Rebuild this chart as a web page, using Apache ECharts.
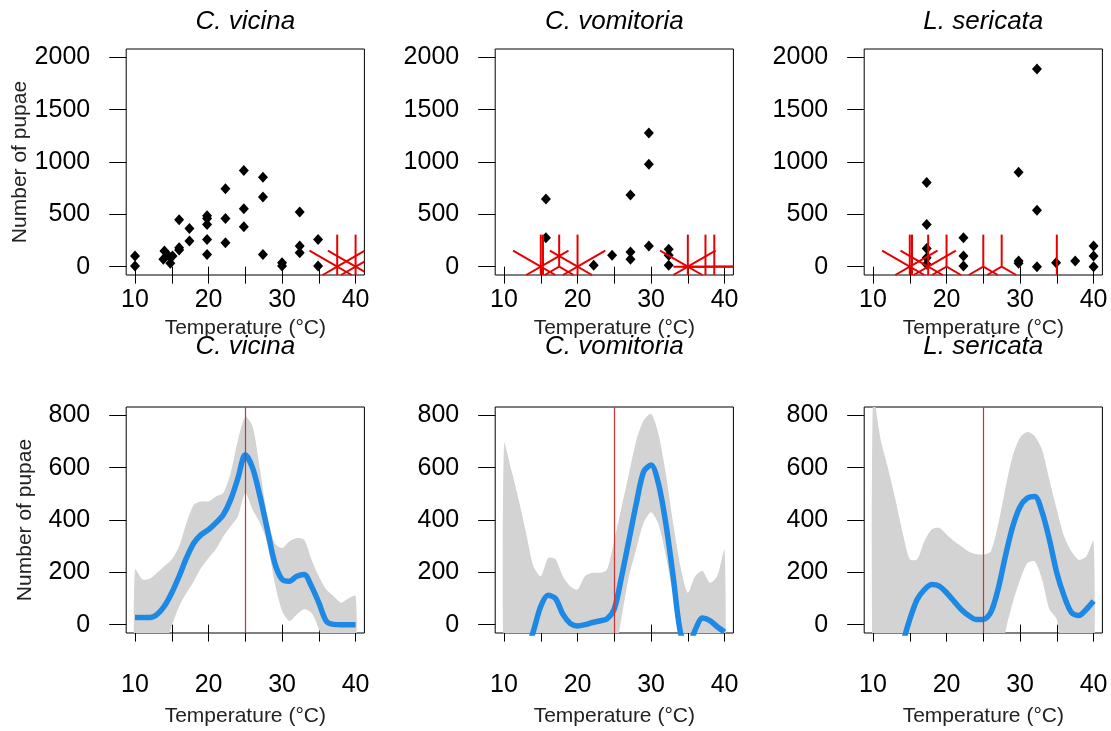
<!DOCTYPE html>
<html><head><meta charset="utf-8">
<script src="https://cdn.jsdelivr.net/npm/echarts@6/dist/echarts.min.js"></script>
<style>html,body{margin:0;padding:0;background:#fff}#c{width:1111px;height:731px}</style>
</head><body><div id="c"></div>
<script>
// ---------- DATA ----------
const speciesNames = ['C. vicina', 'C. vomitoria', 'L. sericata'];
const xTickValues = [10, 15, 20, 25, 30, 35, 40];
const xLabelValues = [10, 20, 30, 40];
const yTicksTop = [0, 500, 1000, 1500, 2000];
const yTicksBottom = [0, 200, 400, 600, 800];
const optimumTemp = 25;

// observed counts [temperature, pupae]
const pointsVicina = [[10,101],[10,6],[14,149],[13.85,70],[14.5,108],[15.1,101],[14.8,32],
  [16,449],[16,180],[16,158],[17.4,364],[17.4,244],
  [19.8,487],[19.8,459],[19.8,402],[19.8,259],[19.8,117],
  [22.3,744],[22.3,459],[22.3,228],[24.8,918],[24.8,554],[24.8,380],
  [27.4,854],[27.4,665],[27.4,117],[30,38],[30,6],[32.4,522],[32.4,196],[32.4,133],
  [34.9,259],[34.9,6]];
const pointsVomitoria = [[15.7,646],[15.7,275],[22.2,13],[24.7,108],[27.2,684],[27.2,139],[27.2,70],
  [29.7,1278],[29.7,978],[29.7,196],[32.4,165],[32.4,108],[32.4,13]];
const pointsSericata = [[17.3,804],[17.3,402],[17.3,174],[17.3,85],[17.3,22],[22.3,275],[22.3,101],[22.3,6],
  [29.8,902],[29.8,54],[29.8,32],[32.3,1889],[32.3,538],[32.3,0],[34.9,38],[37.5,54],
  [40,196],[40,101],[40,0]];

// repeated zero counts shown as sunflowers [temperature, pupae, count]
const sunVicina = [[37.5,0,6],[40,0,6]];
const sunVomitoria = [[15,0,6],[15.3,0,2],[17.5,0,3],[20,0,6],[35,0,6],[37.4,0,4],[38.6,0,4]];
const sunSericata = [[15,0,6],[15.3,0,2],[17.5,0,6],[20,0,3],[25,0,3],[27.5,0,3],[35,0,2]];

// fitted curves and confidence bands
const fitTemps = [10,11,12,13,14,15,16,17,18,19,20,21,22,23,24,25,26,27,28,29,30,31,32,33,34,35,36,37,38,39,40];
const fitVicina   = [27,27,27,39,71,122,185,255,312,344,363,389,420,477,560,649,598,490,363,236,173,166,185,192,147,84,14,1,0,0,0];
const upperVicina = [211,173,175,198,224,249,300,389,458,471,471,490,503,579,706,795,757,592,414,312,293,318,331,325,249,185,135,109,84,100,110];
const lowerVicina = [-157,-119,-121,-120,-82,-5,70,121,166,217,255,288,337,375,414,503,439,388,312,160,53,14,39,59,45,-17,-107,-107,-84,-100,-110];

const fitVomitoria   = [-450,-330,-220,-110,-25,70,112,100,40,5,-5,0,8,14,22,60,185,324,464,585,610,540,388,185,-30,-90,-20,25,15,-8,-28];
const upperVomitoria = [692,591,477,350,223,185,255,250,185,147,134,185,198,198,210,324,451,578,705,781,806,730,578,388,223,122,185,205,160,185,286];
const lowerVomitoria = [-300,-300,-300,-300,-300,-300,-300,-300,-300,-300,-300,-300,-300,-300,-300,-150,30,185,290,390,430,385,265,110,-30,-150,-300,-300,-300,-300,-300];

const fitSericata   = [-500,-400,-290,-180,-75,20,96,134,153,147,122,90,58,35,20,20,46,134,261,375,451,484,490,430,324,198,109,46,35,58,90];
const upperSericata = [880,712,603,484,355,250,250,320,365,370,345,320,300,280,270,268,280,380,520,645,715,736,720,668,553,439,337,280,248,260,320];
const lowerSericata = [-300,-300,-300,-300,-300,-300,-300,-300,-300,-300,-300,-300,-300,-300,-300,-300,-300,-300,-30,84,172,236,242,172,58,20,-200,-200,-200,-200,-200];

// ---------- LAYOUT / STYLE ----------
const FONT = 'Liberation Sans, Arial, sans-serif';
const colLeft = [126.2, 495.2, 864.2];
const boxW = 238.2, boxH = 226;
const rowTop = [49, 407];
const rowY = [[-80, 2080], [-32, 832]];
const rowTicks = [yTicksTop, yTicksBottom];
const labelMargin = [13, 40];
const nameGap = [43, 73];
const titleY = [21.5, 347];

const allPoints = [pointsVicina, pointsVomitoria, pointsSericata];
const allSun = [sunVicina, sunVomitoria, sunSericata];
const allFit = [fitVicina, fitVomitoria, fitSericata];
const allUpper = [upperVicina, upperVomitoria, upperSericata];
const allLower = [lowerVicina, lowerVomitoria, lowerSericata];

function sunflowerItem(params, api) {
  const c = api.coord([api.value(0), api.value(1)]);
  const n = api.value(2);
  const L = 32;
  const cs = params.coordSys;
  const children = [];
  for (let k = 1; k <= n; k++) {
    const a = 2 * Math.PI * k / n;
    const dx = L * Math.sin(a), dy = -L * Math.cos(a);
    let t = 1;
    if (dx > 1e-9) t = Math.min(t, (cs.x + cs.width - c[0]) / dx);
    if (dx < -1e-9) t = Math.min(t, (cs.x - c[0]) / dx);
    if (dy > 1e-9) t = Math.min(t, (cs.y + cs.height - c[1]) / dy);
    if (dy < -1e-9) t = Math.min(t, (cs.y - c[1]) / dy);
    children.push({type: 'line', shape: {x1: c[0], y1: c[1], x2: c[0] + dx * t, y2: c[1] + dy * t},
      style: {stroke: '#e60000', lineWidth: 2}});
  }
  return {type: 'group', children};
}

function bandRenderer(lo, up) {
  return function (params, api) {
    if (params.dataIndex !== 0) return null;
    const pts = [];
    for (let i = 0; i < fitTemps.length; i++) pts.push(api.coord([fitTemps[i], up[i]]));
    for (let i = fitTemps.length - 1; i >= 0; i--) pts.push(api.coord([fitTemps[i], lo[i]]));
    return {type: 'polygon', shape: {points: pts, smooth: 0.25}, style: {fill: '#d3d3d3'}};
  };
}

const grids = [], xAxes = [], yAxes = [], series = [], graphics = [];
for (let r = 0; r < 2; r++) {
  for (let c = 0; c < 3; c++) {
    const idx = r * 3 + c;
    grids.push({left: colLeft[c], top: rowTop[r], width: boxW, height: boxH,
      show: true, borderColor: '#000', borderWidth: 1, backgroundColor: 'transparent'});
    xAxes.push({gridIndex: idx, type: 'value', min: 8.8, max: 41.2,
      axisLine: {show: false}, splitLine: {show: false},
      axisTick: {show: true, length: 17, lineStyle: {color: '#000', width: 1}, customValues: xTickValues},
      axisLabel: {customValues: xLabelValues, fontSize: 25, color: '#000', fontFamily: FONT, margin: labelMargin[r],
        formatter: v => String(v)},
      name: 'Temperature (°C)', nameLocation: 'middle', nameGap: nameGap[r],
      nameTextStyle: {fontSize: 21, color: '#222', fontFamily: FONT}});
    yAxes.push({gridIndex: idx, type: 'value', min: rowY[r][0], max: rowY[r][1],
      axisLine: {show: false}, splitLine: {show: false},
      axisTick: {show: true, length: 17, lineStyle: {color: '#000', width: 1}, customValues: rowTicks[r]},
      axisLabel: {customValues: rowTicks[r], fontSize: 25, color: '#000', fontFamily: FONT, margin: 36,
        padding: [6, 0, 0, 0], formatter: v => String(v)},
      name: c === 0 ? 'Number of pupae' : '', nameLocation: 'middle', nameGap: 90, nameRotate: 90,
      nameTextStyle: {fontSize: 21, color: '#222', fontFamily: FONT}});
    graphics.push({type: 'text', x: colLeft[c] + boxW / 2, y: titleY[r],
      style: {text: speciesNames[c], font: 'italic 26px ' + FONT, fill: '#000',
        textAlign: 'center', textVerticalAlign: 'middle', align: 'center', verticalAlign: 'middle'}});
    if (r === 0) {
      series.push({type: 'scatter', xAxisIndex: idx, yAxisIndex: idx, data: allPoints[c],
        symbol: 'diamond', symbolSize: [10, 11], itemStyle: {color: '#000', opacity: 1}, z: 2, silent: true});
      series.push({type: 'custom', xAxisIndex: idx, yAxisIndex: idx, data: allSun[c],
        renderItem: sunflowerItem, z: 3, silent: true});
    } else {
      const lo = allLower[c], up = allUpper[c], fit = allFit[c];
      series.push({type: 'custom', xAxisIndex: idx, yAxisIndex: idx, clip: true,
        data: fitTemps.map((t, i) => [t, lo[i], up[i]]), encode: {x: 0, y: [1, 2]},
        renderItem: bandRenderer(lo, up), silent: true, z: 1,
        markLine: {silent: true, symbol: 'none', label: {show: false}, animation: false,
          lineStyle: {color: '#cc3333', width: 1.2, type: 'solid'}, data: [{xAxis: optimumTemp}]}});
      series.push({type: 'line', xAxisIndex: idx, yAxisIndex: idx,
        data: fit.map((v, i) => [fitTemps[i], v]), symbol: 'none', smooth: 0.3,
        lineStyle: {color: '#1E88E5', width: 5.5}, silent: true, z: 4});
    }
  }
}

const chart = echarts.init(document.getElementById('c'));
chart.setOption({
  animation: false,
  backgroundColor: '#fff',
  grid: grids, xAxis: xAxes, yAxis: yAxes, series: series, graphic: graphics
});
</script></body></html>
